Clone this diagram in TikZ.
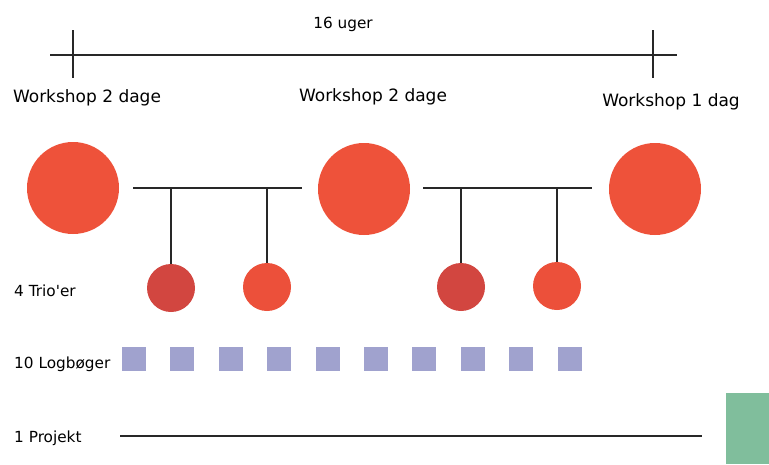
\documentclass[tikz,border=0pt]{standalone}
\usepackage{fontspec}
\newfontfamily\lblfont{DejaVu Sans}
\usepackage{xcolor}
\usepackage{tikz}
\usetikzlibrary{calc}

\definecolor{wsred}{RGB}{238,82,58}
\definecolor{triodark}{RGB}{210,70,64}
\definecolor{triolight}{RGB}{236,80,58}
\definecolor{logblue}{RGB}{160,162,206}
\definecolor{projgreen}{RGB}{128,190,156}
\definecolor{linegray}{RGB}{40,40,40}

\tikzset{
  lbl/.style={font=\lblfont\fontsize{15.3}{18}\selectfont, inner sep=0pt},
  wslbl/.style={font=\lblfont\fontsize{17}{20}\selectfont, inner sep=0pt, anchor=base},
  bigcirc/.style={circle, fill=wsred, minimum size=92pt, inner sep=0pt},
  trio/.style={circle, minimum size=48pt, inner sep=0pt},
  logbook/.style={fill=logblue, minimum size=24pt, inner sep=0pt},
  bar/.style={linegray, line width=1.4pt}
}

\begin{document}
\begin{tikzpicture}[x=1pt,y=-1pt]
    \useasboundingbox (0,0) rectangle (769,464);
    % 参数
    \def\lx{14}

    % 时间轴
    \coordinate (tl) at (50,55);
    \coordinate (tr) at (677,55);
    \draw[bar, line width=1.6pt] (tl) -- (tr);
    \draw[bar, line width=2pt] (73,30) -- (73,78);
    \draw[bar, line width=2pt] (653,30) -- (653,78);
    \node[lbl, anchor=base] (uger) at (343,28) {16 uger};

    % workshops
    \node[wslbl] (ws1) at (87,102) {Workshop 2 dage};
    \node[wslbl] (ws2) at (373,101) {Workshop 2 dage};
    \node[wslbl] (ws3) at (671,106) {Workshop 1 dag};

    \node[bigcirc] (c1) at (73,188) {};
    \node[bigcirc] (c2) at (364,189) {};
    \node[bigcirc] (c3) at (655,189) {};

    % trioer
    \node[lbl, anchor=base west] (trl) at (\lx,296) {4 Trio'er};
    \node[trio, fill=triodark] (t1) at (171,288) {};
    \node[trio, fill=triolight] (t2) at (267,287) {};
    \node[trio, fill=triodark] (t3) at (461,287) {};
    \node[trio, fill=triolight] (t4) at (557,286) {};

    \coordinate (b1l) at (133,188);
    \coordinate (b1r) at (302,188);
    \coordinate (b2l) at (423,188);
    \coordinate (b2r) at (592,188);
    \draw[bar] (b1l) -- (b1r);
    \draw[bar] (b2l) -- (b2r);
    \foreach \t/\b in {t1/b1l,t2/b1l,t3/b2l,t4/b2l}
        \draw[bar] (\t.north) -- (\t.north |- \b);

    % logboger
    \node[lbl, anchor=base west] (logl) at (\lx,368) {10 Logbøger};
    \foreach \i in {0,...,9}
        \node[logbook] (lb\i) at ({134+48.4*\i},359) {};

    % projekt
    \node[lbl, anchor=base west] (prl) at (\lx,442) {1 Projekt};
    \coordinate (pl) at (120,436);
    \coordinate (pr) at (702,436);
    \draw[bar, line width=1.6pt] (pl) -- (pr);
    \fill[projgreen] (726,393) rectangle (769,464);

\end{tikzpicture}
\end{document}
